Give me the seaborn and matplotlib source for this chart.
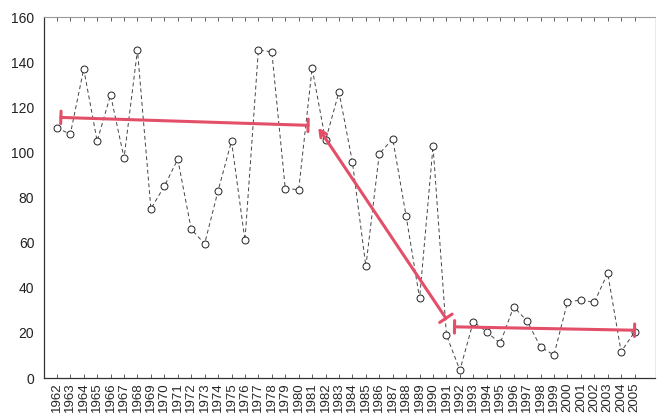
import numpy as np
import pandas as pd
import matplotlib
matplotlib.use("Agg")
import matplotlib.pyplot as plt
import seaborn as sns

# Data
years = list(range(1962, 2006))
values = [111, 108, 137, 105, 125.5, 97.5, 145.3, 75, 85, 97,
          66, 59.5, 83, 105, 61, 145.3, 144.6, 84, 83.5, 137.3,
          105.3, 126.8, 95.7, 49.5, 99.4, 106, 71.7, 35.3, 102.8, 19,
          3.5, 25, 20.4, 15.4, 31.6, 25.3, 13.8, 10.2, 33.5, 34.7,
          33.5, 46.5, 11.7, 20.4]

# red trend segments (start/end)
trend_x0 = [1962.3, 1981.45, 1991.6]
trend_x1 = [1980.7, 1990.96, 2005.0]
trend_y0 = [115.5, 111.0, 22.7]
trend_y1 = [112.0, 26.5, 21.2]
trend_styles = ['|-|', ']->', '|-|']

y_ticks = [0, 20, 40, 60, 80, 100, 120, 140, 160]

df = pd.DataFrame({'year': years, 'value': values})

sns.set_style('white')
plt.rcParams['font.family'] = ['Liberation Sans', 'DejaVu Sans']

fig = plt.figure(figsize=(6.58, 4.15), dpi=100)
ax = fig.add_axes([0.067, 0.089, 0.928, 0.870])

sns.lineplot(data=df, x='year', y='value', ax=ax, color='#444444',
             linestyle=(0, (4, 3)), linewidth=0.7, marker='o', markersize=5,
             markerfacecolor='white', markeredgecolor='#222222',
             markeredgewidth=0.7)

red = '#e34f69'
for x0, x1, y0, y1, st in zip(trend_x0, trend_x1, trend_y0, trend_y1, trend_styles):
    if st == '|-|':
        props = dict(arrowstyle='|-|,widthA=0.45,widthB=0.45', color=red,
                     lw=2.2, shrinkA=0, shrinkB=0)
    else:
        props = dict(arrowstyle=']->,widthA=0.45,lengthA=0,angleA=0',
                     color=red, lw=2.2, shrinkA=0, shrinkB=0,
                     mutation_scale=12)
    # arrow drawn from the later point (A) back to the earlier one (B)
    ax.annotate('', xy=(x0, y0), xytext=(x1, y1), xycoords='data',
                arrowprops=props)

ax.set_xlim(1961.05, 2006.5)
ax.set_ylim(0, 160)
ax.set_xticks(years)
ax.set_xticklabels([str(y) for y in years], rotation=90, fontsize=9.5)
ax.set_yticks(y_ticks)
ax.set_yticklabels([str(t) for t in y_ticks], fontsize=10, color='#222222')
ax.set_xlabel('')
ax.set_ylabel('')

ax.tick_params(axis='x', direction='in', length=3, width=0.6, color='#444444',
               pad=3, top=True, bottom=True)
ax.tick_params(axis='y', length=0, pad=7)

for side in ['left', 'bottom']:
    ax.spines[side].set_color('#333333')
    ax.spines[side].set_linewidth(0.9)
ax.spines['top'].set_color('#999999')
ax.spines['top'].set_linewidth(0.8)
ax.spines['right'].set_color('#e6e6e6')
ax.spines['right'].set_linewidth(0.6)

fig.savefig('out.png', dpi=100)
